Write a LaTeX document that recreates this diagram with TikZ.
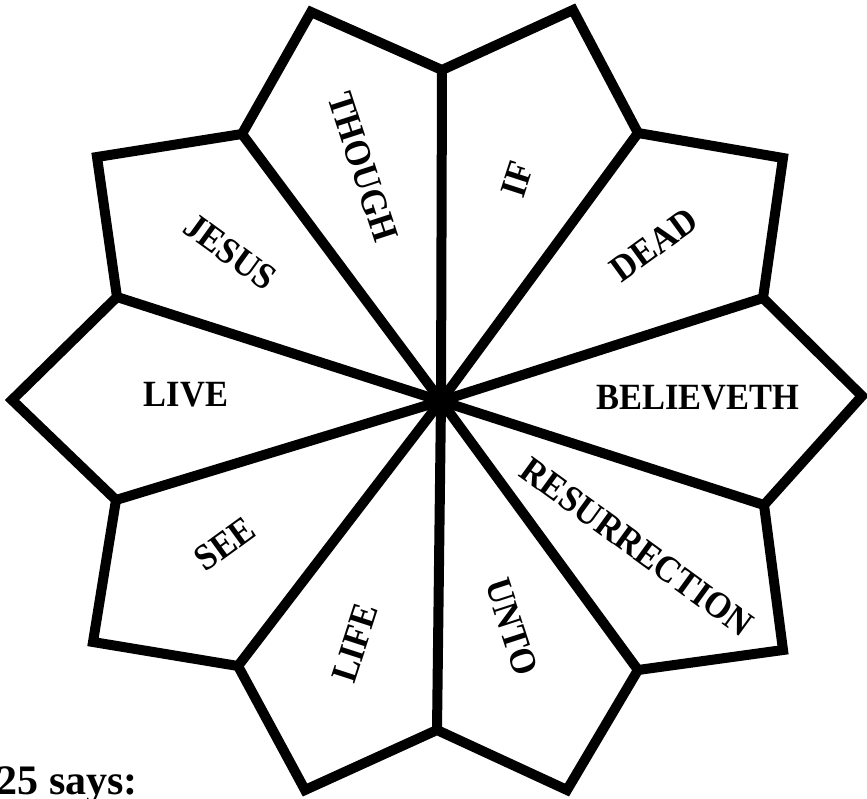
\documentclass[tikz,border=0pt]{standalone}
\usepackage{fontspec}
\newfontfamily\wordfont[FakeStretch=0.93]{Liberation Serif}
\newfontfamily\capfont{Liberation Serif}
\begin{document}
\begin{tikzpicture}[x=1pt,y=-1pt,
  outline/.style={line width=10pt, line join=miter, miter limit=10},
  spoke/.style={line width=10pt, line cap=butt},
  word/.style={inner sep=0pt, font=\wordfont\bfseries\fontsize{37pt}{37pt}\selectfont},
  caption/.style={inner sep=0pt, font=\capfont\bfseries\fontsize{42pt}{42pt}\selectfont}]
\useasboundingbox (0,0) rectangle (867,799);
\fill[white] (0,0) rectangle (867,799);
% centre
\coordinate (C) at (441,401);
% notches and tips, clockwise from top
\coordinate (N0) at (442,70);
\coordinate (Ta) at (573,10);
\coordinate (N1) at (638,133);
\coordinate (Tb) at (783,158);
\coordinate (N2) at (763,298);
\coordinate (Tc) at (862,396);
\coordinate (N3) at (764,505);
\coordinate (Td) at (783,650);
\coordinate (N4) at (638,670);
\coordinate (Te) at (567,790);
\coordinate (N5) at (437,730);
\coordinate (Tf) at (305,790);
\coordinate (N6) at (238,666);
\coordinate (Tg) at (93,642);
\coordinate (N7) at (116,500);
\coordinate (Th) at (12,400);
\coordinate (N8) at (117,297);
\coordinate (Ti) at (97,157);
\coordinate (N9) at (242,134);
\coordinate (Tj) at (311,12);
% outline
\draw[outline] (N0) -- (Ta) -- (N1) -- (Tb) -- (N2) -- (Tc) -- (N3) -- (Td) -- (N4) -- (Te)
  -- (N5) -- (Tf) -- (N6) -- (Tg) -- (N7) -- (Th) -- (N8) -- (Ti) -- (N9) -- (Tj) -- cycle;
% spokes
\foreach \n in {N0,N1,N2,N3,N4,N5,N6,N7,N8,N9}
  \draw[spoke] (C) -- (\n);
\fill (C) circle (11pt);
% words
\node[word, rotate=72]  (wif)   at (517,179) {IF};
\node[word, rotate=36]  (wdead) at (654,245) {DEAD};
\node[word]             (wbel)  at (698,398) {BELIEVETH};
\node[word, rotate=-36] (wres)  at (637,547) {RESURRECTION};
\node[word, rotate=-72] (wunto) at (512,627) {UNTO};
\node[word, rotate=72]  (wlife) at (355,643) {LIFE};
\node[word, rotate=36]  (wsee)  at (225,544) {SEE};
\node[word]             (wlive) at (186,395) {LIVE};
\node[word, rotate=-36] (wjes)  at (230,252) {JESUS};
\node[word, rotate=-72] (wtho)  at (363,167) {THOUGH};
% caption (cut at the left edge)
\node[caption, anchor=base east] (cap) at (138,794) {25 says:};
\end{tikzpicture}
\end{document}
